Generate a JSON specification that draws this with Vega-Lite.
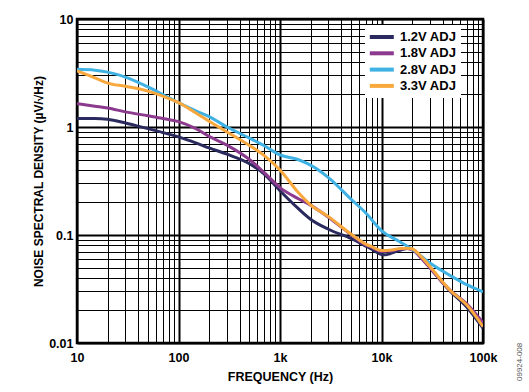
{
  "$schema": "https://vega.github.io/schema/vega-lite/v6.json",
  "width": 406,
  "height": 324,
  "autosize": "none",
  "padding": {"left": 77, "top": 19, "right": 46, "bottom": 49},
  "background": "white",
  "config": {
    "view": {"stroke": "black", "strokeWidth": 2.5},
    "font": "Liberation Sans"
  },
  "title": {
    "text": "09924-008",
    "orient": "right",
    "anchor": "end",
    "frame": "group",
    "angle": -90,
    "align": "left",
    "baseline": "middle",
    "fontSize": 8,
    "fontWeight": "normal",
    "color": "#555555",
    "offset": 15,
    "dx": -38
  },
  "data": {
    "values": [
      {"s": "1.2V ADJ", "f": 10, "v": 1.2},
      {"s": "1.2V ADJ", "f": 15, "v": 1.2},
      {"s": "1.2V ADJ", "f": 20, "v": 1.18},
      {"s": "1.2V ADJ", "f": 30, "v": 1.09},
      {"s": "1.2V ADJ", "f": 50, "v": 0.965},
      {"s": "1.2V ADJ", "f": 70, "v": 0.89},
      {"s": "1.2V ADJ", "f": 100, "v": 0.81},
      {"s": "1.2V ADJ", "f": 150, "v": 0.71},
      {"s": "1.2V ADJ", "f": 200, "v": 0.64},
      {"s": "1.2V ADJ", "f": 300, "v": 0.56},
      {"s": "1.2V ADJ", "f": 500, "v": 0.457},
      {"s": "1.2V ADJ", "f": 700, "v": 0.366},
      {"s": "1.2V ADJ", "f": 1000, "v": 0.257},
      {"s": "1.2V ADJ", "f": 1500, "v": 0.177},
      {"s": "1.2V ADJ", "f": 2000, "v": 0.14},
      {"s": "1.2V ADJ", "f": 3000, "v": 0.113},
      {"s": "1.2V ADJ", "f": 5000, "v": 0.093},
      {"s": "1.2V ADJ", "f": 7000, "v": 0.079},
      {"s": "1.2V ADJ", "f": 8000, "v": 0.074},
      {"s": "1.2V ADJ", "f": 10000, "v": 0.066},
      {"s": "1.2V ADJ", "f": 11000, "v": 0.0655},
      {"s": "1.2V ADJ", "f": 12000, "v": 0.067},
      {"s": "1.2V ADJ", "f": 15000, "v": 0.072},
      {"s": "1.2V ADJ", "f": 18000, "v": 0.075},
      {"s": "1.2V ADJ", "f": 20000, "v": 0.0735},
      {"s": "1.2V ADJ", "f": 25000, "v": 0.061},
      {"s": "1.2V ADJ", "f": 30000, "v": 0.05},
      {"s": "1.2V ADJ", "f": 47000, "v": 0.0305},
      {"s": "1.2V ADJ", "f": 70000, "v": 0.0212},
      {"s": "1.2V ADJ", "f": 100000, "v": 0.0137},
      {"s": "1.8V ADJ", "f": 10, "v": 1.65},
      {"s": "1.8V ADJ", "f": 15, "v": 1.56},
      {"s": "1.8V ADJ", "f": 20, "v": 1.5},
      {"s": "1.8V ADJ", "f": 30, "v": 1.38},
      {"s": "1.8V ADJ", "f": 50, "v": 1.27},
      {"s": "1.8V ADJ", "f": 70, "v": 1.2},
      {"s": "1.8V ADJ", "f": 100, "v": 1.12},
      {"s": "1.8V ADJ", "f": 150, "v": 0.96},
      {"s": "1.8V ADJ", "f": 200, "v": 0.82},
      {"s": "1.8V ADJ", "f": 300, "v": 0.68},
      {"s": "1.8V ADJ", "f": 500, "v": 0.5},
      {"s": "1.8V ADJ", "f": 700, "v": 0.378},
      {"s": "1.8V ADJ", "f": 1000, "v": 0.275},
      {"s": "1.8V ADJ", "f": 1500, "v": 0.218},
      {"s": "1.8V ADJ", "f": 2000, "v": 0.189},
      {"s": "1.8V ADJ", "f": 3000, "v": 0.146},
      {"s": "1.8V ADJ", "f": 5000, "v": 0.101},
      {"s": "1.8V ADJ", "f": 7000, "v": 0.081},
      {"s": "1.8V ADJ", "f": 8000, "v": 0.077},
      {"s": "1.8V ADJ", "f": 10000, "v": 0.0705},
      {"s": "1.8V ADJ", "f": 12000, "v": 0.071},
      {"s": "1.8V ADJ", "f": 15000, "v": 0.074},
      {"s": "1.8V ADJ", "f": 18000, "v": 0.075},
      {"s": "1.8V ADJ", "f": 20000, "v": 0.073},
      {"s": "1.8V ADJ", "f": 25000, "v": 0.06},
      {"s": "1.8V ADJ", "f": 30000, "v": 0.0495},
      {"s": "1.8V ADJ", "f": 47000, "v": 0.031},
      {"s": "1.8V ADJ", "f": 70000, "v": 0.0228},
      {"s": "1.8V ADJ", "f": 100000, "v": 0.0154},
      {"s": "2.8V ADJ", "f": 10, "v": 3.42},
      {"s": "2.8V ADJ", "f": 15, "v": 3.36},
      {"s": "2.8V ADJ", "f": 20, "v": 3.22},
      {"s": "2.8V ADJ", "f": 30, "v": 2.9},
      {"s": "2.8V ADJ", "f": 50, "v": 2.35},
      {"s": "2.8V ADJ", "f": 70, "v": 2.0},
      {"s": "2.8V ADJ", "f": 100, "v": 1.68},
      {"s": "2.8V ADJ", "f": 150, "v": 1.4},
      {"s": "2.8V ADJ", "f": 200, "v": 1.25},
      {"s": "2.8V ADJ", "f": 300, "v": 1.0},
      {"s": "2.8V ADJ", "f": 500, "v": 0.79},
      {"s": "2.8V ADJ", "f": 700, "v": 0.67},
      {"s": "2.8V ADJ", "f": 1000, "v": 0.551},
      {"s": "2.8V ADJ", "f": 1500, "v": 0.5},
      {"s": "2.8V ADJ", "f": 2000, "v": 0.443},
      {"s": "2.8V ADJ", "f": 3000, "v": 0.34},
      {"s": "2.8V ADJ", "f": 5000, "v": 0.215},
      {"s": "2.8V ADJ", "f": 7000, "v": 0.16},
      {"s": "2.8V ADJ", "f": 10000, "v": 0.11},
      {"s": "2.8V ADJ", "f": 15000, "v": 0.087},
      {"s": "2.8V ADJ", "f": 20000, "v": 0.074},
      {"s": "2.8V ADJ", "f": 30000, "v": 0.055},
      {"s": "2.8V ADJ", "f": 50000, "v": 0.041},
      {"s": "2.8V ADJ", "f": 70000, "v": 0.0345},
      {"s": "2.8V ADJ", "f": 100000, "v": 0.0298},
      {"s": "3.3V ADJ", "f": 10, "v": 3.3},
      {"s": "3.3V ADJ", "f": 15, "v": 2.85},
      {"s": "3.3V ADJ", "f": 20, "v": 2.55},
      {"s": "3.3V ADJ", "f": 30, "v": 2.38},
      {"s": "3.3V ADJ", "f": 50, "v": 2.15},
      {"s": "3.3V ADJ", "f": 70, "v": 1.93},
      {"s": "3.3V ADJ", "f": 100, "v": 1.68},
      {"s": "3.3V ADJ", "f": 150, "v": 1.34},
      {"s": "3.3V ADJ", "f": 200, "v": 1.13},
      {"s": "3.3V ADJ", "f": 300, "v": 0.9},
      {"s": "3.3V ADJ", "f": 500, "v": 0.675},
      {"s": "3.3V ADJ", "f": 700, "v": 0.543},
      {"s": "3.3V ADJ", "f": 1000, "v": 0.4},
      {"s": "3.3V ADJ", "f": 1500, "v": 0.25},
      {"s": "3.3V ADJ", "f": 2000, "v": 0.19},
      {"s": "3.3V ADJ", "f": 3000, "v": 0.148},
      {"s": "3.3V ADJ", "f": 5000, "v": 0.102},
      {"s": "3.3V ADJ", "f": 7000, "v": 0.0824},
      {"s": "3.3V ADJ", "f": 8000, "v": 0.078},
      {"s": "3.3V ADJ", "f": 10000, "v": 0.0718},
      {"s": "3.3V ADJ", "f": 12000, "v": 0.0722},
      {"s": "3.3V ADJ", "f": 15000, "v": 0.0748},
      {"s": "3.3V ADJ", "f": 18000, "v": 0.0755},
      {"s": "3.3V ADJ", "f": 20000, "v": 0.0745},
      {"s": "3.3V ADJ", "f": 25000, "v": 0.062},
      {"s": "3.3V ADJ", "f": 30000, "v": 0.051},
      {"s": "3.3V ADJ", "f": 47000, "v": 0.031},
      {"s": "3.3V ADJ", "f": 70000, "v": 0.0222},
      {"s": "3.3V ADJ", "f": 100000, "v": 0.0142}
    ]
  },
  "mark": {"type": "line", "strokeWidth": 3, "interpolate": "monotone", "clip": true},
  "encoding": {
    "x": {
      "field": "f",
      "type": "quantitative",
      "scale": {"type": "log", "domain": [10, 100000], "nice": false},
      "axis": {
        "title": "FREQUENCY (Hz)",
        "values": [10, 20, 30, 40, 50, 60, 70, 80, 90, 100, 200, 300, 400, 500, 600, 700, 800, 900, 1000, 2000, 3000, 4000, 5000, 6000, 7000, 8000, 9000, 10000, 20000, 30000, 40000, 50000, 60000, 70000, 80000, 90000, 100000],
        "labelExpr": "indexof([10,100,1000,10000,100000], datum.value) < 0 ? '' : (datum.value >= 1000 ? (datum.value/1000) + 'k' : datum.value + '')",
        "labelOverlap": false,
        "labelBound": false,
        "labelFlush": false,
        "labelFontSize": 12.5,
        "labelFontWeight": "bold",
        "labelColor": "black",
        "labelPadding": 8,
        "ticks": false,
        "domain": false,
        "grid": true,
        "gridColor": "black",
        "gridOpacity": 1,
        "gridWidth": {"condition": {"test": "indexof([10,100,1000,10000,100000], datum.value) >= 0", "value": 2}, "value": 1},
        "titleFontSize": 12.5,
        "titleFontWeight": "bold",
        "titleColor": "black",
        "titlePadding": 7
      }
    },
    "y": {
      "field": "v",
      "type": "quantitative",
      "scale": {"type": "log", "domain": [0.01, 10], "nice": false},
      "axis": {
        "title": "NOISE SPECTRAL DENSITY (µV/√Hz)",
        "values": [0.01, 0.02, 0.03, 0.04, 0.05, 0.06, 0.07, 0.08, 0.09, 0.1, 0.2, 0.3, 0.4, 0.5, 0.6, 0.7, 0.8, 0.9, 1, 2, 3, 4, 5, 6, 7, 8, 9, 10],
        "labelExpr": "indexof([0.01,0.1,1,10], datum.value) < 0 ? '' : datum.value + ''",
        "labelOverlap": false,
        "labelBound": false,
        "labelFlush": false,
        "labelFontSize": 12.5,
        "labelFontWeight": "bold",
        "labelColor": "black",
        "labelPadding": 4,
        "ticks": false,
        "domain": false,
        "grid": true,
        "gridColor": "black",
        "gridOpacity": 1,
        "gridWidth": {"condition": {"test": "indexof([0.01,0.1,1,10], datum.value) >= 0", "value": 2}, "value": 1},
        "titleFontSize": 12,
        "titleFontWeight": "bold",
        "titleColor": "black",
        "titlePadding": 3
      }
    },
    "color": {
      "field": "s",
      "type": "nominal",
      "scale": {
        "domain": ["1.2V ADJ", "1.8V ADJ", "2.8V ADJ", "3.3V ADJ"],
        "range": ["#2b2a5e", "#8b3a8e", "#3fb1e3", "#f9a83e"]
      },
      "legend": {
        "title": null,
        "orient": "none",
        "legendX": 288,
        "legendY": 6,
        "fillColor": "white",
        "padding": 4,
        "symbolType": "M-1.2,0H2.8",
        "symbolSize": 144,
        "symbolStrokeWidth": 4,
        "labelFontSize": 13,
        "labelFontWeight": "bold",
        "labelColor": "black",
        "labelOffset": 15,
        "rowPadding": 0.3
      }
    }
  }
}
